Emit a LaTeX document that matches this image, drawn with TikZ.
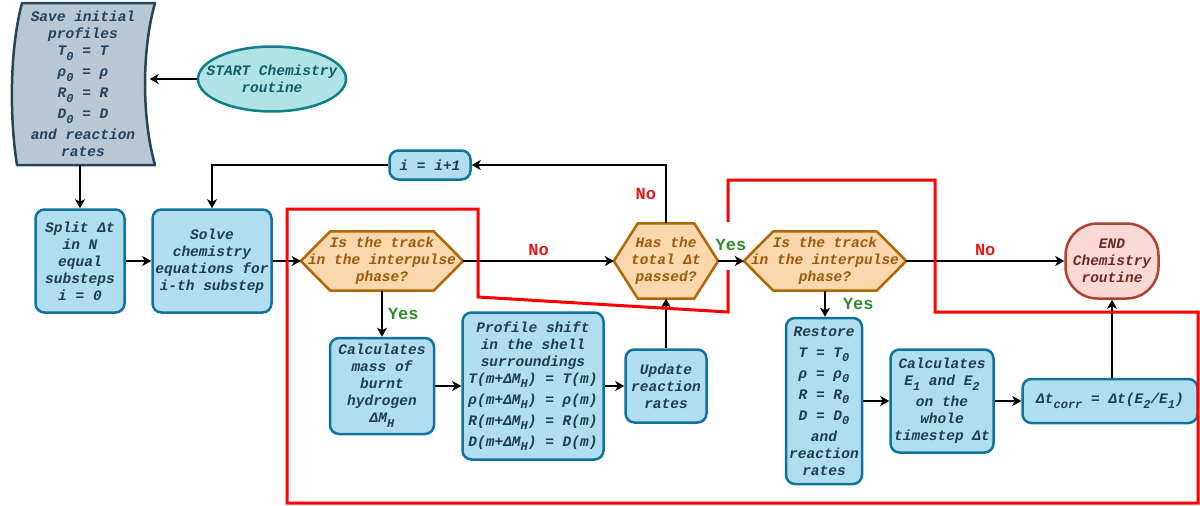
\documentclass[tikz,border=0pt]{standalone}
\usepackage{fontspec}
\newfontfamily\flowfont{Liberation Mono}
\usepackage{tikz}
\usetikzlibrary{shapes.geometric,arrows.meta,positioning,backgrounds}
\newcommand{\boxfont}{\flowfont\bfseries\itshape\fontsize{14.5}{17}\selectfont}
\newcommand{\labelfont}{\flowfont\bfseries\fontsize{17}{18}\selectfont}
\newcommand{\lowsub}[1]{\raisebox{-0.32em}{\fontsize{12}{12}\selectfont #1}}
\newcommand{\hexoutline}[2]{\draw[hexshape] (#1.west) -- ([xshift=#2]#1.north west) -- ([xshift=-#2]#1.north east) -- (#1.east) -- ([xshift=-#2]#1.south east) -- ([xshift=#2]#1.south west) -- cycle;}
\tikzset{
  stepbox/.style={rectangle, rounded corners=9pt, draw=stepline, fill=stepfill, line width=2.5pt, text=steptext, align=center, font=\boxfont, inner sep=1pt},
  decide/.style={rectangle, text=dectext, align=center, font=\boxfont, inner sep=0pt, minimum width=162pt, minimum height=59pt},
  hexshape/.style={draw=decline, fill=decfill, line width=2.5pt, line join=round},
  startnode/.style={ellipse, draw=startline, fill=startfill, line width=2.5pt, text=starttext, align=center, font=\boxfont, inner xsep=-13pt, inner ysep=0pt, minimum width=148pt, minimum height=65pt},
  endnode/.style={rectangle, rounded corners=32pt, draw=endline, fill=endfill, line width=2.5pt, text=endtext, align=center, font=\boxfont, inner sep=0pt, minimum width=93pt, minimum height=75pt},
  tapebox/.style={rectangle, text=tapetext, align=center, font=\boxfont, inner sep=0pt, minimum width=143pt, minimum height=162pt},
  tapeshape/.style={draw=tapeline, fill=tapefill, line width=2.5pt, line join=round},
  flowarrow/.style={-{Stealth[length=9pt,width=10pt,inset=2.5pt]}, line width=1.4pt, black},
  nolabel/.style={text=noRed, font=\labelfont},
  yeslabel/.style={text=yesGreen, font=\labelfont},
  checkline/.style={draw=red, line width=3pt}
}
\definecolor{stepfill}{HTML}{B1DDF0}
\definecolor{stepline}{HTML}{10739E}
\definecolor{steptext}{HTML}{1F3F4F}
\definecolor{decfill}{HTML}{FAD7AC}
\definecolor{decline}{HTML}{B46504}
\definecolor{dectext}{HTML}{9C5A10}
\definecolor{startfill}{HTML}{B0E3E6}
\definecolor{startline}{HTML}{0E8088}
\definecolor{starttext}{HTML}{135F64}
\definecolor{endfill}{HTML}{FAD9D5}
\definecolor{endline}{HTML}{AE4132}
\definecolor{endtext}{HTML}{6E2A22}
\definecolor{tapefill}{HTML}{BAC8D3}
\definecolor{tapeline}{HTML}{23445D}
\definecolor{tapetext}{HTML}{23445D}
\definecolor{noRed}{HTML}{E51A1A}
\definecolor{yesGreen}{HTML}{2E8B2E}

\begin{document}
\begin{tikzpicture}[x=1pt, y=-1pt]
\useasboundingbox (0,0) rectangle (1200,506);
\draw[tapeshape] (22,3) -- (155,3) .. controls (141.7,50) and (141.7,118) .. (155,165) -- (17,165) .. controls (9.5,118) and (9.5,50) .. cycle;
\node[tapebox] (save) at (83,84) {Save initial\\profiles\\T\lowsub{0} = T\\[4pt]ρ\lowsub{0} = ρ\\[4pt]R\lowsub{0} = R\\[4pt]D\lowsub{0} = D\\[4pt]and reaction\\rates};
\node[startnode] (start) at (272,79) {START Chemistry\\routine};
\node[stepbox, minimum width=89pt, minimum height=103pt] (split) at (80,261) {Split Δt\\in N\\equal\\substeps\\i = 0};
\node[stepbox, minimum width=119pt, minimum height=103pt] (solve) at (212,261) {Solve\\chemistry\\equations for\\i-th substep};
\node[stepbox, minimum width=81pt, minimum height=29pt] (inc) at (430,165) {i = i+1};
\node[decide] (interA) at (382,261) {Is the track\\in the interpulse\\phase?};
\node[decide, minimum width=104pt, minimum height=75pt] (passed) at (666,261) {Has the\\total Δt\\passed?};
\node[decide] (interB) at (825,261) {Is the track\\in the interpulse\\phase?};
\node[endnode] (stop) at (1112,261) {END\\Chemistry\\routine};
\node[stepbox, minimum width=104pt, minimum height=96pt] (burnt) at (382,386) {Calculates\\mass of\\burnt\\hydrogen\\ΔM\lowsub{H}};
\node[stepbox, minimum width=141pt, minimum height=147pt] (shift) at (533,386) {Profile shift\\in the shell\\surroundings\\T(m+ΔM\lowsub{H}) = T(m)\\[4pt]ρ(m+ΔM\lowsub{H}) = ρ(m)\\[4pt]R(m+ΔM\lowsub{H}) = R(m)\\[4pt]D(m+ΔM\lowsub{H}) = D(m)};
\node[stepbox, minimum width=81pt, minimum height=73pt] (update) at (666,386) {Update\\reaction\\rates};
\node[stepbox, minimum width=76pt, minimum height=166pt] (restore) at (824,401) {Restore\\[4pt]T = T\lowsub{0}\\[4pt]ρ = ρ\lowsub{0}\\[4pt]R = R\lowsub{0}\\[4pt]D = D\lowsub{0}\\[4pt]and\\reaction\\rates};
\node[stepbox, minimum width=103pt, minimum height=103pt] (energy) at (942,401) {Calculates\\E\lowsub{1} and E\lowsub{2}\\[4pt]on the\\whole\\timestep Δt};
\node[stepbox, minimum width=175pt, minimum height=44pt] (corr) at (1110,401) {Δt\lowsub{corr} = Δt(E\lowsub{2}/E\lowsub{1})};
\begin{scope}[on background layer]
\hexoutline{interA}{29.5pt}
\hexoutline{passed}{24pt}
\hexoutline{interB}{29.5pt}
\end{scope}
\coordinate (saveport) at ([xshift=-5pt]save.east);
\draw[flowarrow] (start.west) -- (start.west -| saveport);
\draw[flowarrow] (split.north |- save.south) -- (split.north);
\draw[flowarrow] (split) -- (solve);
\draw[flowarrow] (solve) -- (interA);
\draw[flowarrow] (interA) -- node[nolabel, above=1pt] {No} (passed);
\draw[flowarrow] (passed) -- node[yeslabel, above=6pt] {Yes} (interB);
\draw[flowarrow] (interB) -- node[nolabel, above=1pt] {No} (stop);
\draw[flowarrow] (interA) -- node[yeslabel, right=2pt] {Yes} (burnt);
\draw[flowarrow] (burnt) -- (shift);
\draw[flowarrow] (shift) -- (update);
\draw[flowarrow] (update) -- (passed);
\draw[flowarrow] (passed) |- node[nolabel, left=6pt, pos=0.25] {No} (inc);
\draw[flowarrow] (inc) -| (solve);
\draw[flowarrow] (interB.south) -- node[yeslabel, right=14pt] {Yes} (interB.south |- restore.north);
\draw[flowarrow] (restore) -- (energy);
\draw[flowarrow] (energy) -- (corr);
\draw[flowarrow] (stop.south |- corr.north) -- (stop.south);
\draw[checkline] (728,222) -- (728,180) -- (935,180) -- (935,312) -- (1198,312) -- (1198,503) -- (287,503) -- (287,209) -- (478,209) -- (478,297) -- (728,312) -- (728,270);
\end{tikzpicture}
\end{document}
